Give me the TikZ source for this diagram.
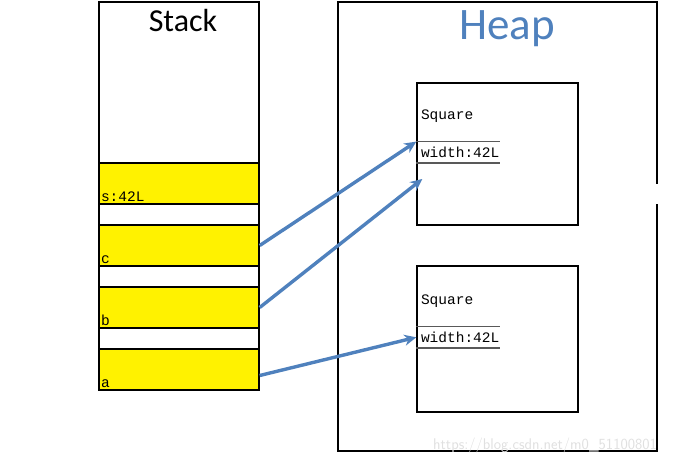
\documentclass[tikz,border=0pt]{standalone}
\usepackage{fontspec}
\setmainfont{Carlito}
\setmonofont{Liberation Mono}
\usetikzlibrary{arrows.meta,calc}
\definecolor{heapblue}{RGB}{79,129,189}
\begin{document}
\begin{tikzpicture}[x=1pt,y=-1pt,line width=1.4pt,
  cell/.style={draw,fill=yellow,minimum width=160pt,minimum height=41pt,inner sep=0pt},
  obj/.style={draw,minimum width=161pt,inner sep=0pt},
  field/.style={text width=74pt,align=left,minimum height=20pt,inner sep=4pt,anchor=west,font=\ttfamily\fontsize{14.5}{15}\selectfont},
  ref/.style={draw=heapblue,line width=3.4pt,-{Stealth[length=12pt,width=11pt]}}]
\useasboundingbox (0,0) rectangle (675,465);
% stack
\node[draw,minimum width=160pt,minimum height=388pt,inner sep=0pt] (stack) at (179,196) {};
\node[font=\fontsize{32}{32}\selectfont] (stitle) at (183,21) {Stack};
\foreach \n/\y/\t in {s/183.5/s:42L, c/245.5/c, b/307.5/b, a/369.5/a}
  {\node[cell] (\n) at (179,\y) {};
   \node[anchor=south west,inner sep=2pt,font=\ttfamily\fontsize{14.5}{15}\selectfont] at (\n.south west) {\t};}
% heap
\draw (657,184) -- (657,2) -- (338,2) -- (338,451) -- (657,451) -- (657,204);
\node[text=heapblue,font=\fontsize{45}{45}\selectfont] (htitle) at (507,29) {Heap};
\node[text=black!12,font=\sffamily\fontsize{15.5}{15}\selectfont,anchor=east] (mark) at (661,446) {https://blog.csdn.net/m0\_51100801};
\foreach \i/\y/\h in {1/154/142, 2/339/146}
  {\node[obj,minimum height=\h pt] (o\i) at (497.5,\y) {};
   \node[field] (f\i) at ($(o\i.north west)+(0,\h/2-1)$) {width:42L};
   \draw[black!65,line width=1.2pt] (f\i.north west) -- (f\i.north east) (f\i.south west) -- (f\i.south east);
   \node[field] (q\i) at ($(f\i.north west)+(0,-25)$) {Square};}
% references
\draw[ref] (c.east) -- (f1.north west);
\draw[ref] (b.east) -- ($(f1.south west)+(6,16)$);
\draw[ref] ($(a.east)+(0,6)$) -- (f2.west);
\end{tikzpicture}
\end{document}
